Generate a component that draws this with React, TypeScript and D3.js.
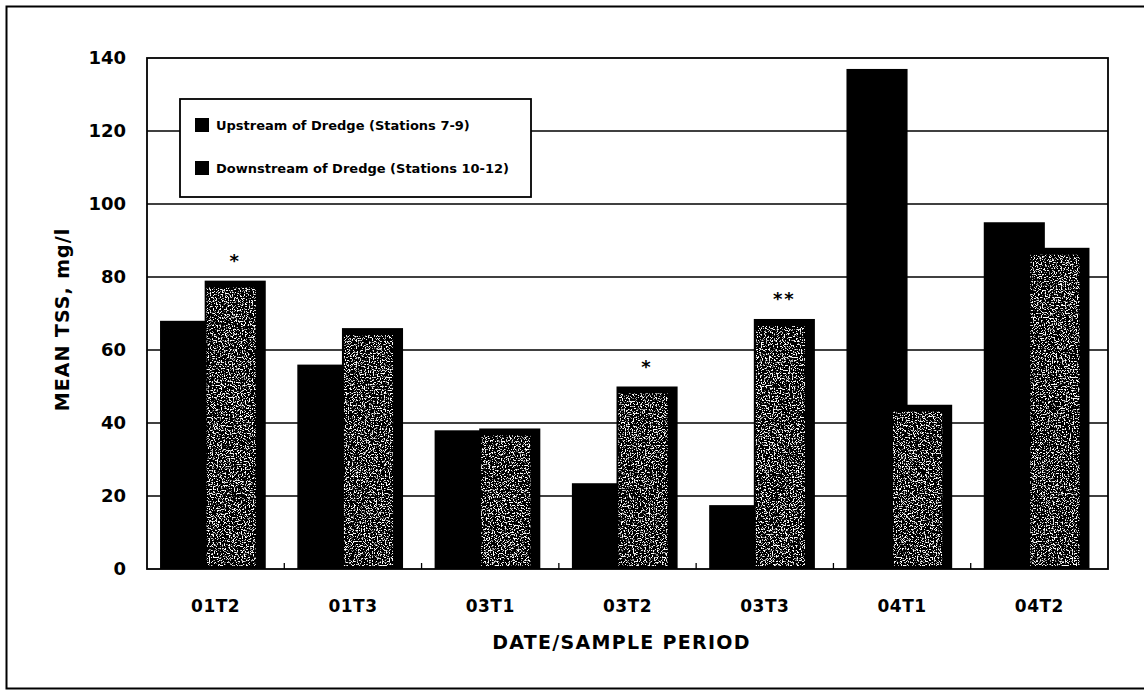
import React from 'react';
import * as d3 from 'd3';

const categories = ['01T2', '01T3', '03T1', '03T2', '03T3', '04T1', '04T2'];
const upstream = [68, 56, 38, 23.5, 17.5, 137, 95];
const downstream = [79, 66, 38.5, 50, 68.5, 45, 88];
const marks = ['*', '', '', '*', '**', '', ''];
const yTicks = [0, 20, 40, 60, 80, 100, 120, 140];
const seriesNames = ['Upstream of Dredge (Stations 7-9)', 'Downstream of Dredge (Stations 10-12)'];

const W = 1144;
const H = 690;
const FONT = '"DejaVu Sans", Verdana, sans-serif';

const App: React.FC = () => {
  const margin = { top: 58, right: 36, bottom: 121, left: 147 };
  const x0 = margin.left;
  const x1 = W - margin.right;
  const y0 = H - margin.bottom;

  const x = d3.scaleBand<string>().domain(categories).range([x0, x1]).padding(0);
  const y = d3.scaleLinear().domain([0, 140]).range([y0, margin.top]);
  const step = x.step();

  const upX = (c: string) => (x(c) as number) + step * 0.095;
  const downX = (c: string) => (x(c) as number) + step * 0.42;
  const barW = step * 0.445;

  return (
    <svg width={W} height={H} style={{ position: 'absolute', left: 0, top: 0, background: '#fff' }}>
      <defs>
        <filter id="stipple" x="0" y="0" width="1" height="1">
          <feTurbulence type="fractalNoise" baseFrequency="0.75" numOctaves="2" seed="11" result="noise" />
          <feColorMatrix
            in="noise"
            type="matrix"
            values="0 0 0 0 1  0 0 0 0 1  0 0 0 0 1  9 0 0 0 -4.9"
            result="specks"
          />
          <feComposite in="specks" in2="SourceGraphic" operator="in" result="clipped" />
          <feMerge>
            <feMergeNode in="SourceGraphic" />
            <feMergeNode in="clipped" />
          </feMerge>
        </filter>
      </defs>

      {/* outer frame */}
      <rect x={6.5} y={6.5} width={W + 10} height={H - 8} fill="none" stroke="#000" strokeWidth={2} />

      {/* grid lines */}
      {yTicks.slice(1, -1).map(t => (
        <line key={t} x1={x0} x2={x1} y1={y(t)} y2={y(t)} stroke="#000" strokeWidth={1.3} />
      ))}

      {/* bars */}
      {categories.map((c, i) => (
        <g key={c}>
          <rect x={upX(c)} y={y(upstream[i])} width={barW} height={y0 - y(upstream[i])} fill="#000" />
          <rect x={downX(c)} y={y(downstream[i])} width={barW} height={y0 - y(downstream[i])} fill="#000" />
          <rect
            x={downX(c) + 2}
            y={y(downstream[i]) + 7}
            width={barW - 12}
            height={y0 - y(downstream[i]) - 10}
            fill="#000"
            filter="url(#stipple)"
          />
          {marks[i] && (
            <text
              x={downX(c) + barW / 2}
              y={y(downstream[i]) - 14}
              textAnchor="middle"
              fontFamily={FONT}
              fontWeight="bold"
              fontSize={18}
              letterSpacing={2}
            >
              {marks[i]}
            </text>
          )}
        </g>
      ))}

      {/* plot frame */}
      <rect x={x0} y={margin.top} width={x1 - x0} height={y0 - margin.top} fill="none" stroke="#000" strokeWidth={1.8} />

      {/* inner ticks at band boundaries */}
      {categories.slice(1).map(c => (
        <line key={c} x1={x(c)} x2={x(c)} y1={y0} y2={y0 - 6} stroke="#000" strokeWidth={1.3} />
      ))}

      {/* y tick labels */}
      {yTicks.map(t => (
        <text
          key={t}
          x={x0 - 21}
          y={y(t)}
          dy="0.36em"
          textAnchor="end"
          fontFamily={FONT}
          fontWeight="bold"
          fontSize={18}
        >
          {t}
        </text>
      ))}

      {/* x labels */}
      {categories.map(c => (
        <text
          key={c}
          x={(x(c) as number) + step / 2}
          y={y0 + 43}
          textAnchor="middle"
          fontFamily={FONT}
          fontWeight="bold"
          fontSize={17}
          letterSpacing={0.5}
        >
          {c}
        </text>
      ))}

      {/* axis titles */}
      <text
        x={(x0 + x1) / 2 - 6}
        y={y0 + 80}
        textAnchor="middle"
        fontFamily={FONT}
        fontWeight="bold"
        fontSize={19}
        letterSpacing={1.3}
      >
        DATE/SAMPLE PERIOD
      </text>
      <text
        transform={`translate(62,${(margin.top + y0) / 2 + 6}) rotate(-90)`}
        dy="0.35em"
        textAnchor="middle"
        fontFamily={FONT}
        fontWeight="bold"
        fontSize={19}
        letterSpacing={1}
      >
        MEAN TSS, mg/l
      </text>

      {/* legend */}
      <g transform="translate(180,99)">
        <rect x={0} y={0} width={351} height={98} fill="#fff" stroke="#000" strokeWidth={1.8} />
        {seriesNames.map((s, i) => (
          <g key={s} transform={`translate(0,${26 + i * 43})`}>
            <rect x={15} y={-7} width={14} height={14} fill="#000" />
            <text x={36} y={0} dy="0.36em" fontFamily={FONT} fontWeight="bold" fontSize={13}>
              {s}
            </text>
          </g>
        ))}
      </g>
    </svg>
  );
};

export default App;
